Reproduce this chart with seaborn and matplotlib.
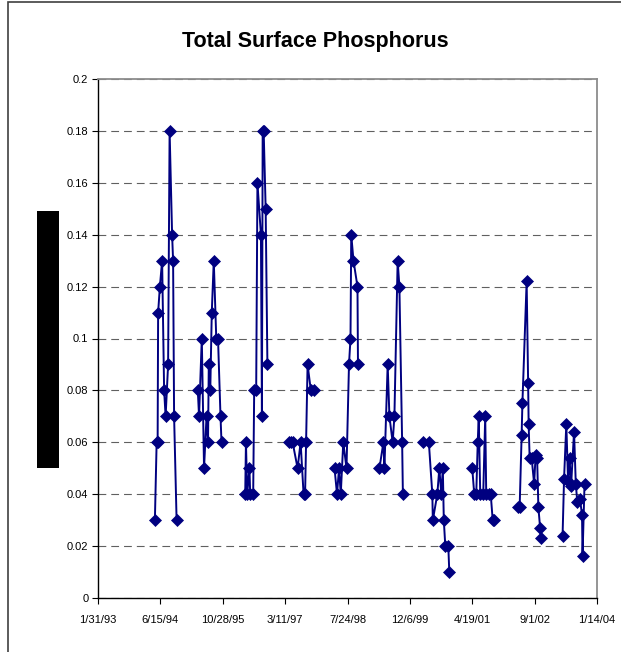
"""
Total surface phosphorus, seasonal samples 1994-2003.

Saves out.png (621x652) in the current directory.
"""

from __future__ import annotations

import matplotlib

matplotlib.use("Agg")
import matplotlib.pyplot as plt
import pandas as pd
import seaborn as sns
from matplotlib.patches import Rectangle


# -- Data ----------------------------------------------------------------------

sample_dates = [
    # 1994
    "1994-05-02", "1994-05-16", "1994-05-24", "1994-05-28", "1994-06-11", "1994-06-29",
    "1994-07-15", "1994-07-27", "1994-08-16", "1994-08-28", "1994-09-17", "1994-09-25",
    "1994-10-03", "1994-10-23",
    # 1995
    "1995-04-11", "1995-04-21", "1995-05-13", "1995-05-31", "1995-06-20", "1995-07-02",
    "1995-07-08", "1995-07-20", "1995-08-01", "1995-08-17", "1995-09-06", "1995-09-20",
    "1995-10-10", "1995-10-18",
    # 1996
    "1996-04-25", "1996-05-01", "1996-05-11", "1996-05-29", "1996-06-04", "1996-06-28",
    "1996-07-06", "1996-07-22", "1996-08-01", "1996-08-29", "1996-09-06", "1996-09-12",
    "1996-09-20", "1996-10-06", "1996-10-20",
    # 1997
    "1997-04-09", "1997-04-24", "1997-05-10", "1997-06-19", "1997-07-13", "1997-08-06",
    "1997-08-18", "1997-08-26", "1997-09-07", "1997-10-03", "1997-10-31",
    # 1998
    "1998-04-11", "1998-05-01", "1998-05-17", "1998-05-31", "1998-06-20", "1998-07-16",
    "1998-08-05", "1998-08-17", "1998-08-23", "1998-09-10", "1998-10-12", "1998-10-16",
    # 1999
    "1999-04-06", "1999-05-08", "1999-05-16", "1999-06-11", "1999-06-25", "1999-07-21",
    "1999-08-04", "1999-08-30", "1999-09-13", "1999-10-05", "1999-10-11",
    # 2000
    "2000-03-23", "2000-05-06", "2000-06-03", "2000-06-07", "2000-07-13", "2000-07-29",
    "2000-08-14", "2000-08-26", "2000-09-03", "2000-09-15", "2000-10-09", "2000-10-17",
    # 2001
    "2001-04-19", "2001-05-05", "2001-05-21", "2001-06-02", "2001-06-10", "2001-06-22",
    "2001-07-16", "2001-08-01", "2001-08-09", "2001-08-29", "2001-09-14", "2001-09-30",
    "2001-10-12",
    # 2002
    "2002-04-22", "2002-05-04", "2002-05-20", "2002-05-26", "2002-06-29", "2002-07-11",
    "2002-07-15", "2002-07-23", "2002-08-08", "2002-08-28", "2002-09-09", "2002-09-21",
    "2002-10-01", "2002-10-15", "2002-10-23",
    # 2003
    "2003-04-13", "2003-04-25", "2003-05-13", "2003-05-27", "2003-06-08", "2003-06-20",
    "2003-07-14", "2003-07-28", "2003-08-09", "2003-08-31", "2003-09-16", "2003-09-20",
    "2003-10-06",
]

total_phosphorus = [
    # 1994
    0.03, 0.06, 0.06, 0.11, 0.12, 0.13, 0.08, 0.07, 0.09, 0.18, 0.14, 0.13, 0.07, 0.03,
    # 1995
    0.08, 0.07, 0.10, 0.05, 0.07, 0.06, 0.09, 0.08, 0.11, 0.13, 0.10, 0.10, 0.07, 0.06,
    # 1996
    0.04, 0.06, 0.04, 0.05, 0.04, 0.04, 0.08, 0.08, 0.16, 0.14, 0.07, 0.18, 0.18, 0.15, 0.09,
    # 1997
    0.06, 0.06, 0.06, 0.05, 0.06, 0.04, 0.04, 0.06, 0.09, 0.08, 0.08,
    # 1998
    0.05, 0.04, 0.05, 0.04, 0.06, 0.05, 0.09, 0.10, 0.14, 0.13, 0.12, 0.09,
    # 1999
    0.05, 0.06, 0.05, 0.09, 0.07, 0.06, 0.07, 0.13, 0.12, 0.06, 0.04,
    # 2000
    0.06, 0.06, 0.04, 0.03, 0.04, 0.05, 0.04, 0.05, 0.03, 0.02, 0.02, 0.01,
    # 2001
    0.05, 0.04, 0.04, 0.06, 0.07, 0.04, 0.04, 0.07, 0.04, 0.04, 0.04, 0.03, 0.03,
    # 2002
    0.035, 0.035, 0.063, 0.075, 0.122, 0.083, 0.067, 0.054, 0.054, 0.044, 0.055, 0.054,
    0.035, 0.027, 0.023,
    # 2003
    0.024, 0.046, 0.067, 0.045, 0.054, 0.043, 0.064, 0.044, 0.037, 0.038, 0.032, 0.016,
    0.044,
]

x_tick_dates = [
    "1993-01-31", "1994-06-15", "1995-10-28", "1997-03-11", "1998-07-24",
    "1999-12-06", "2001-04-19", "2002-09-01", "2004-01-14",
]
x_tick_labels = [
    "1/31/93", "6/15/94", "10/28/95", "3/11/97", "7/24/98",
    "12/6/99", "4/19/01", "9/1/02", "1/14/04",
]
y_ticks = [0, 0.02, 0.04, 0.06, 0.08, 0.1, 0.12, 0.14, 0.16, 0.18, 0.2]
y_tick_labels = ["0", "0.02", "0.04", "0.06", "0.08", "0.1", "0.12", "0.14", "0.16", "0.18", "0.2"]

NAVY = "#000080"
W, H = 621, 652


# -- Plot ----------------------------------------------------------------------

def main() -> None:
    sns.set_theme(style="white")
    plt.rcParams["font.family"] = ["Liberation Sans", "DejaVu Sans"]

    df = pd.DataFrame({"date": pd.to_datetime(sample_dates), "tp": total_phosphorus})
    # each sampling season is drawn as its own line (no joins across winters)
    df["season"] = df["date"].dt.year

    fig, ax = plt.subplots(figsize=(W / 100, H / 100), dpi=100)
    fig.subplots_adjust(left=98 / W, right=597 / W, top=1 - 79 / H, bottom=1 - 598 / H)

    sns.lineplot(
        data=df,
        x="date",
        y="tp",
        units="season",
        estimator=None,
        color=NAVY,
        linewidth=1.4,
        marker="D",
        markersize=6,
        markeredgecolor=NAVY,
        markeredgewidth=0.5,
        ax=ax,
    )

    ax.set_xlim(pd.Timestamp(x_tick_dates[0]), pd.Timestamp(x_tick_dates[-1]))
    ax.set_ylim(0, 0.2)
    ax.set_xticks(pd.to_datetime(x_tick_dates))
    ax.set_xticklabels(x_tick_labels)
    ax.set_yticks(y_ticks)
    ax.set_yticklabels(y_tick_labels)
    ax.set_xlabel("")
    ax.set_ylabel("")

    ax.grid(axis="y", color="#606060", linewidth=0.8, linestyle=(0, (7, 4.5)))
    ax.set_axisbelow(True)

    for side in ("left", "bottom"):
        ax.spines[side].set_color("black")
        ax.spines[side].set_linewidth(1.0)
    for side in ("top", "right"):
        ax.spines[side].set_color("#8c8c8c")
        ax.spines[side].set_linewidth(1.3)

    ax.tick_params(axis="both", direction="out", length=4, width=0.8, color="black",
                   labelsize=8, labelcolor="black")
    ax.tick_params(axis="x", pad=8, bottom=True)
    ax.tick_params(axis="y", pad=3, left=True)

    fig.text(315 / W, 1 - 41 / H, "Total Surface Phosphorus", ha="center", va="center",
             fontsize=15.5, fontweight="bold", color="black")

    # chart frame and the blacked-out axis title
    fig.patches.append(Rectangle((8 / W, -0.05), 1.0, 1.05 - 2 / H, transform=fig.transFigure,
                                 fill=False, edgecolor="#404040", linewidth=1.2))
    fig.patches.append(Rectangle((37 / W, 1 - 468 / H), 22 / W, 257 / H, transform=fig.transFigure,
                                 facecolor="black", edgecolor="none"))

    fig.savefig("out.png", dpi=100)
    plt.close(fig)


if __name__ == "__main__":
    main()
